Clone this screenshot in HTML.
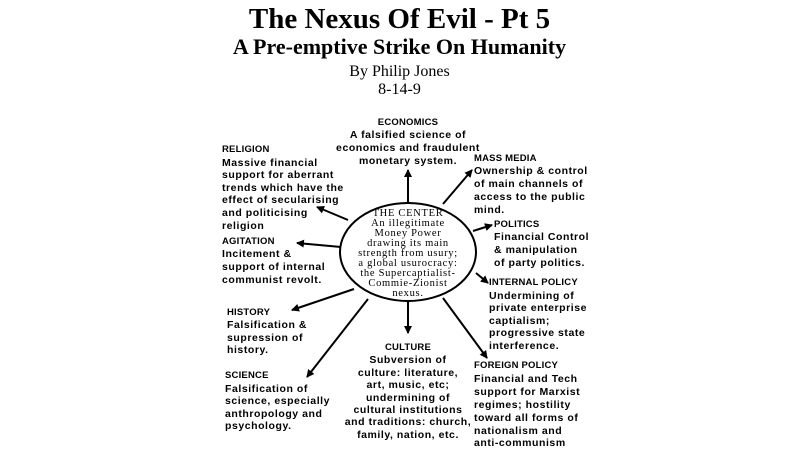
<!DOCTYPE html>
<html><head><meta charset="utf-8"><style>
body{margin:0;width:799px;height:460px;background:#fff;position:relative;overflow:hidden;font-family:"Liberation Sans",sans-serif;color:#000}
.t{position:absolute;left:0;width:799px;text-align:center;font-family:"Liberation Serif",serif;white-space:nowrap}
.b{position:absolute;font-size:10.5px;font-weight:bold;line-height:13px;white-space:nowrap;letter-spacing:0.55px}
.b .h{font-size:9.5px;letter-spacing:0.2px}
.c{text-align:center}
svg{position:absolute;left:0;top:0}
</style></head><body>
<div class="t" style="top:2px;font-size:29px;font-weight:bold;line-height:34px">The Nexus Of Evil - Pt 5</div>
<div class="t" style="top:34px;font-size:22px;font-weight:bold;line-height:26px">A Pre-emptive Strike On Humanity</div>
<div class="t" style="top:63px;font-size:16px;line-height:18px">By Philip Jones</div>
<div class="t" style="top:81px;font-size:16px;line-height:18px">8-14-9</div>
<svg width="799" height="460" viewBox="0 0 799 460">
<defs><marker id="a" markerWidth="8" markerHeight="8" refX="7" refY="4" orient="auto" markerUnits="userSpaceOnUse"><path d="M0,0 L8,4 L0,8 Z" fill="#000"/></marker></defs>
<g stroke="#000" stroke-width="2" fill="none" marker-end="url(#a)">
<line x1="408" y1="204" x2="408" y2="170"/>
<line x1="443" y1="204" x2="472" y2="170"/>
<line x1="473" y1="231" x2="492" y2="225"/>
<line x1="476" y1="273" x2="488" y2="283"/>
<line x1="348" y1="220" x2="317" y2="207"/>
<line x1="341" y1="247" x2="297" y2="243"/>
<line x1="354" y1="289" x2="292" y2="310"/>
<line x1="368" y1="299" x2="307" y2="377"/>
<line x1="408" y1="301" x2="408" y2="333"/>
<line x1="443" y1="298" x2="487" y2="358"/>
</g>
<ellipse cx="408" cy="252" rx="68" ry="49" stroke="#000" stroke-width="2" fill="#fff"/>
</svg>
<div class="b c" style="left:408px;top:116px;transform:translateX(-50%)"><span class="h">ECONOMICS</span><br>A falsified science of<br>economics and fraudulent<br>monetary system.</div>
<div class="b" style="left:222px;top:143px;line-height:12.6px"><span class="h">RELIGION</span><br>Massive financial<br>support for aberrant<br>trends which have the<br>effect of secularising<br>and politicising<br>religion</div>
<div class="b" style="left:474px;top:152px"><span class="h">MASS MEDIA</span><br>Ownership &amp; control<br>of main channels of<br>access to the public<br>mind.</div>
<div class="b" style="left:494px;top:218px"><span class="h">POLITICS</span><br>Financial Control<br>&amp; manipulation<br>of party politics.</div>
<div class="b" style="left:489px;top:276px;line-height:12.5px"><span class="h">INTERNAL POLICY</span><br>Undermining of<br>private enterprise<br>captialism;<br>progressive state<br>interference.</div>
<div class="b" style="left:222px;top:235px"><span class="h">AGITATION</span><br>Incitement &amp;<br>support of internal<br>communist revolt.</div>
<div class="b" style="left:227px;top:306px;line-height:12.3px"><span class="h">HISTORY</span><br>Falsification &amp;<br>supression of<br>history.</div>
<div class="b" style="left:225px;top:369px;line-height:12.5px"><span class="h">SCIENCE</span><br>Falsification of<br>science, especially<br>anthropology and<br>psychology.</div>
<div class="b c" style="left:408px;top:341px;line-height:12.4px;transform:translateX(-50%)"><span class="h">CULTURE</span><br>Subversion of<br>culture: literature,<br>art, music, etc;<br>undermining of<br>cultural institutions<br>and traditions: church,<br>family, nation, etc.</div>
<div class="b" style="left:474px;top:359px;line-height:12.9px"><span class="h">FOREIGN POLICY</span><br>Financial and Tech<br>support for Marxist<br>regimes; hostility<br>toward all forms of<br>nationalism and<br>anti-communism</div>
<div style="position:absolute;left:408px;top:209px;transform:translateX(-50%);font-family:'Liberation Serif',serif;font-size:10.5px;line-height:10px;letter-spacing:0.7px;text-align:center;white-space:nowrap">THE CENTER<br>An illegitimate<br>Money Power<br>drawing its main<br>strength from usury;<br>a global usurocracy:<br>the Supercaptialist-<br>Commie-Zionist<br>nexus.</div>
</body></html>
